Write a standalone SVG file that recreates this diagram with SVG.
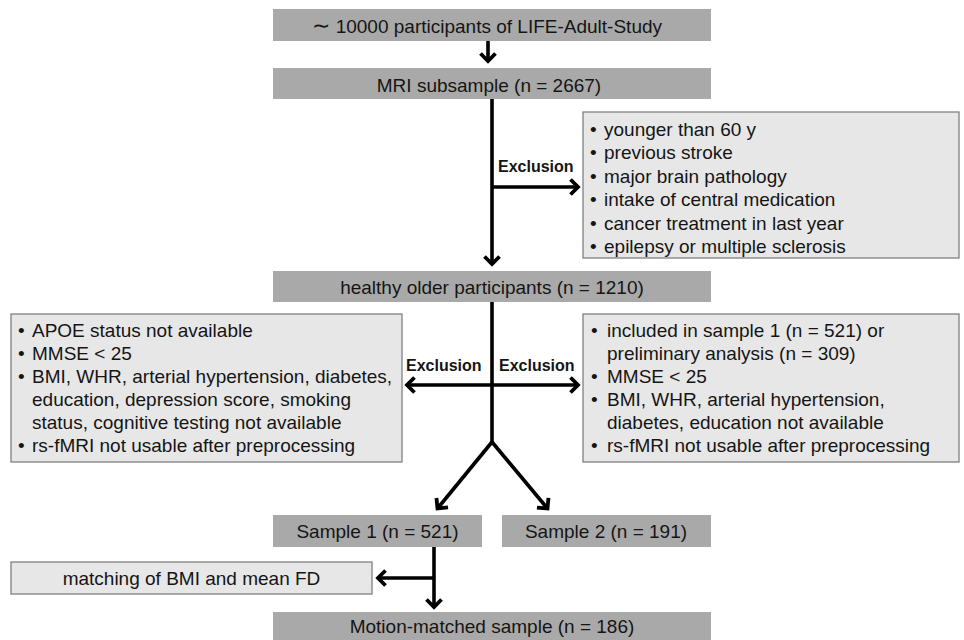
<svg xmlns="http://www.w3.org/2000/svg" width="964" height="640" viewBox="0 0 964 640">
<defs>
<style>
.dark{fill:#a9a9a9;}
.light{fill:#e7e7e7;stroke:#808080;stroke-width:1.3;}
text{font-family:"Liberation Sans",Arial,sans-serif;font-size:19px;fill:#151515;}
.c{text-anchor:middle;}
.ex{font-size:16px;font-weight:bold;}
.tl{font-family:"DejaVu Sans",sans-serif;font-size:22px;}
.ln{stroke:#000;stroke-width:3.6;fill:none;}
</style>
<marker id="ah" markerUnits="userSpaceOnUse" viewBox="0 0 14 18" refX="9" refY="9" markerWidth="14" markerHeight="18" orient="auto" overflow="visible">
<path d="M1.5,1.5 L9,9 L1.5,16.5" stroke="#000" stroke-width="3.8" fill="none" stroke-linejoin="miter" stroke-miterlimit="4"/>
</marker>
</defs>
<rect width="964" height="640" fill="#fff"/>
<g id="connectors">
<line class="ln" x1="488" y1="41" x2="488" y2="61" marker-end="url(#ah)"/>
<line class="ln" x1="492" y1="99" x2="492" y2="264" marker-end="url(#ah)"/>
<line class="ln" x1="492" y1="187" x2="578" y2="187" marker-end="url(#ah)"/>
<polyline class="ln" points="492,302 492,442"/>
<line class="ln" x1="492" y1="385" x2="407" y2="385" marker-end="url(#ah)"/>
<line class="ln" x1="492" y1="385" x2="578" y2="385" marker-end="url(#ah)"/>
<line class="ln" x1="492" y1="442" x2="437.5" y2="508.5" marker-end="url(#ah)"/>
<line class="ln" x1="492" y1="442" x2="547.5" y2="508.5" marker-end="url(#ah)"/>
<line class="ln" x1="434" y1="547" x2="434" y2="607" marker-end="url(#ah)"/>
<line class="ln" x1="434" y1="578" x2="378" y2="578" marker-end="url(#ah)"/>
<text class="ex" x="498" y="172">Exclusion</text>
<text class="ex" x="406" y="371">Exclusion</text>
<text class="ex" x="499" y="371">Exclusion</text>
</g>
<g id="n-life">
<rect class="dark" x="273" y="9" width="438" height="32"/>
<text class="c" x="487" y="33"><tspan class="tl">∼</tspan> 10000 participants of LIFE-Adult-Study</text>
</g>
<g id="n-mri">
<rect class="dark" x="273" y="68" width="438" height="31"/>
<text class="c" x="489" y="92">MRI subsample (n = 2667)</text>
</g>
<g id="n-excl1">
<rect class="light" x="583" y="112" width="376" height="146"/>
<text><tspan x="590" y="136">•</tspan><tspan x="604">younger than 60 y</tspan></text>
<text><tspan x="590" y="159">•</tspan><tspan x="604">previous stroke</tspan></text>
<text><tspan x="590" y="183">•</tspan><tspan x="604">major brain pathology</tspan></text>
<text><tspan x="590" y="206">•</tspan><tspan x="604">intake of central medication</tspan></text>
<text><tspan x="590" y="230">•</tspan><tspan x="604">cancer treatment in last year</tspan></text>
<text><tspan x="590" y="253">•</tspan><tspan x="604">epilepsy or multiple sclerosis</tspan></text>
</g>
<g id="n-healthy">
<rect class="dark" x="273" y="271" width="438" height="31"/>
<text class="c" x="492" y="294">healthy older participants (n = 1210)</text>
</g>
<g id="n-excl-left">
<rect class="light" x="11" y="314" width="391" height="148"/>
<text><tspan x="18" y="337">•</tspan><tspan x="32">APOE status not available</tspan></text>
<text><tspan x="18" y="360">•</tspan><tspan x="32">MMSE &lt; 25</tspan></text>
<text><tspan x="18" y="383">•</tspan><tspan x="32">BMI, WHR, arterial hypertension, diabetes,</tspan></text>
<text x="32" y="406">education, depression score, smoking</text>
<text x="32" y="429">status, cognitive testing not available</text>
<text><tspan x="18" y="452">•</tspan><tspan x="32">rs-fMRI not usable after preprocessing</tspan></text>
</g>
<g id="n-excl-right">
<rect class="light" x="583" y="314" width="376" height="148"/>
<text><tspan x="591" y="337">•</tspan><tspan x="607">included in sample 1 (n = 521) or</tspan></text>
<text x="607" y="360">preliminary analysis (n = 309)</text>
<text><tspan x="591" y="383">•</tspan><tspan x="607">MMSE &lt; 25</tspan></text>
<text><tspan x="591" y="406">•</tspan><tspan x="607">BMI, WHR, arterial hypertension,</tspan></text>
<text x="607" y="429">diabetes, education not available</text>
<text><tspan x="591" y="452">•</tspan><tspan x="607">rs-fMRI not usable after preprocessing</tspan></text>
</g>
<g id="n-sample1">
<rect class="dark" x="273" y="515" width="209" height="32"/>
<text class="c" x="377.5" y="538">Sample 1 (n = 521)</text>
</g>
<g id="n-sample2">
<rect class="dark" x="502" y="515" width="209" height="32"/>
<text class="c" x="606" y="538">Sample 2 (n = 191)</text>
</g>
<g id="n-matching">
<rect class="light" x="11" y="562" width="361" height="32"/>
<text class="c" x="191.5" y="585">matching of BMI and mean FD</text>
</g>
<g id="n-motion">
<rect class="dark" x="273" y="612" width="438" height="30"/>
<text class="c" x="492" y="633">Motion-matched sample (n = 186)</text>
</g>
</svg>
